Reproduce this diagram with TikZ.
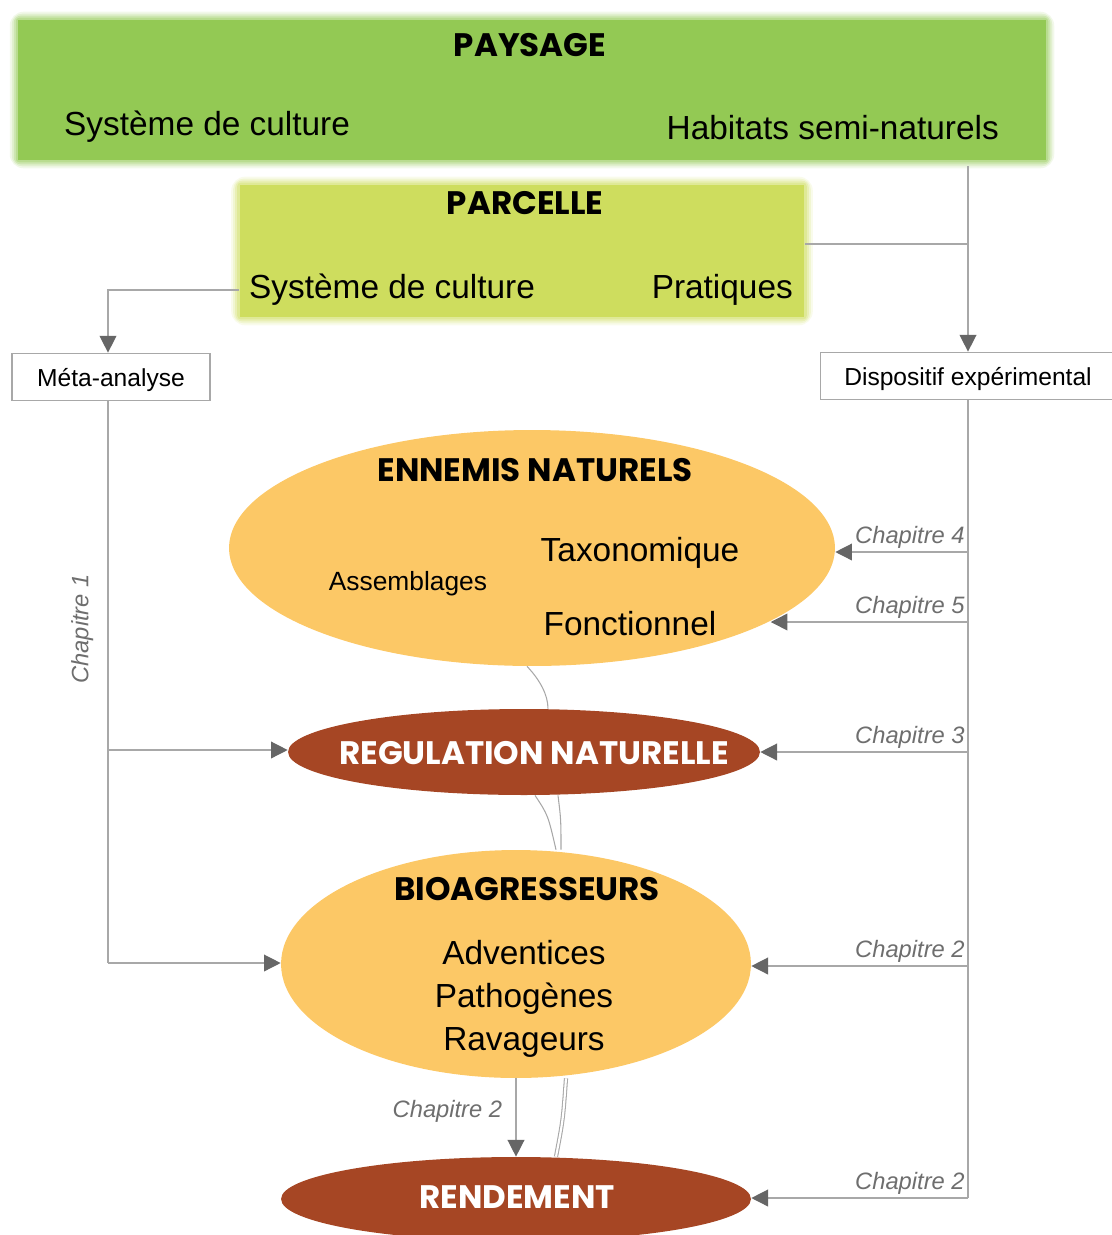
\documentclass[tikz,border=0pt]{standalone}
\usepackage{fontspec}
\setmainfont{Liberation Sans}
\newfontfamily\titlefont{Poppins}
\usetikzlibrary{shapes.geometric,arrows.meta,calc}

\definecolor{paysagegreen}{HTML}{93C954}
\definecolor{parcellegreen}{HTML}{CEDD5E}
\definecolor{ennemisyellow}{HTML}{FCC866}
\definecolor{regulbrown}{HTML}{A64624}
\definecolor{linegray}{HTML}{A8A8A8}
\definecolor{tipgray}{HTML}{666666}
\definecolor{chapgray}{HTML}{6E6E6E}

\tikzset{
  levelbox/.style={rectangle,inner sep=0pt},
  methbox/.style={rectangle,draw=linegray,line width=1pt,fill=white,inner sep=0pt,text depth=0pt,
    font=\fontsize{14}{16}\selectfont},
  lightell/.style={ellipse,fill=ennemisyellow,inner sep=0pt},
  darkell/.style={ellipse,fill=regulbrown,inner sep=0pt},
  titletext/.style={font=\titlefont\bfseries\fontsize{18.5}{20}\selectfont},
  bodytext/.style={font=\fontsize{19}{22}\selectfont},
  chaptext/.style={font=\itshape\fontsize{13.5}{15}\selectfont,text=chapgray,inner sep=1.5pt},
  link/.style={draw=linegray,line width=0.8pt},
  arr/.style={link,-{Triangle[length=9.5pt,width=9.5pt,color=tipgray]}},
  curve/.style={draw=linegray,line width=0.6pt}
}

\begin{document}
\begin{tikzpicture}[x=0.02cm,y=-0.02cm]

	\useasboundingbox (0,0) rectangle (1112,1235);

	% niveaux
	\node[levelbox,fill=paysagegreen,minimum width=20.56cm,minimum height=2.8cm] (paysage) at (532,90) {};
	\node[levelbox,fill=parcellegreen,minimum width=11.3cm,minimum height=2.64cm] (parcelle) at (522,251) {};
	\foreach \d/\o in {8/0.12,6/0.18,4/0.25,2/0.35}{
		\fill[paysagegreen,opacity=\o,rounded corners=\d] ($(paysage.south west)+(-\d,\d)$) rectangle ($(paysage.north east)+(\d,-\d)$);
		\fill[parcellegreen,opacity=\o,rounded corners=\d] ($(parcelle.south west)+(-\d,\d)$) rectangle ($(parcelle.north east)+(\d,-\d)$);
	}

	\node[titletext] (paysagetitle) at (530,45) {PAYSAGE};
	\node[bodytext,anchor=west] (paysageculture) at (58,127) {Système de culture};
	\node[bodytext,anchor=east] (paysagehabitats) at (1005,128) {Habitats semi-naturels};

	\node[titletext] (parcelletitle) at (525,203) {PARCELLE};
	\node[bodytext,anchor=west] (parcelleculture) at (243,290) {Système de culture};
	\node[bodytext,anchor=east] (parcellepratiques) at (799,290) {Pratiques};

	% methodes
	\node[methbox,minimum width=3.96cm,minimum height=0.94cm] (meta) at (111,377) {Méta-analyse};
	\node[methbox,minimum width=5.9cm,minimum height=0.94cm] (dispo) at (968,376) {Dispositif expérimental};

	% ellipses
	\node[lightell,minimum width=12.12cm,minimum height=4.72cm] (ennemis) at (532,548) {};
	\node[darkell,minimum width=9.44cm,minimum height=1.72cm] (regul) at (524,752) {};
	\node[lightell,minimum width=9.4cm,minimum height=4.56cm] (bioag) at (516,964) {};
	\node[darkell,minimum width=9.4cm,minimum height=1.68cm] (rend) at (516,1199) {};

	\node[titletext] (ennemistitle) at (535,470) {ENNEMIS NATURELS};
	\node[bodytext] (taxo) at (640,553) {Taxonomique};
	\node[font=\fontsize{15}{17}\selectfont] (assemb) at (408,584) {Assemblages};
	\node[bodytext] (fonct) at (630,624) {Fonctionnel};
	\node[titletext,text=white] (regultitle) at (534,753) {REGULATION NATURELLE};
	\node[titletext] (bioagtitle) at (527,889) {BIOAGRESSEURS};
	\node[font=\fontsize{19}{24.4}\selectfont,align=center] (bioaglist) at (524,999) {Adventices\\Pathogènes\\Ravageurs};
	\node[titletext,text=white] (rendtitle) at (517,1197) {RENDEMENT};

	% liaisons
	\coordinate (paysageout) at (968,166);
	\coordinate (parcellejoin) at (968,244);
	\coordinate (metain) at (108,290);
	\coordinate (leftregul) at (108,750);
	\coordinate (leftbio) at (108,963);
	\coordinate (rightennemis) at (968,552);
	\coordinate (rightfonct) at (968,622);
	\coordinate (rightregul) at (968,752);
	\coordinate (rightbio) at (968,966);
	\coordinate (rightrend) at (968,1198);

	\draw[arr] (paysageout) -- (paysageout |- dispo.north);
	\draw[link] (parcelle.east |- parcellejoin) -- (parcellejoin);
	\draw[arr] (parcelle.west |- metain) -- (metain) -- (metain |- meta.north);

	\draw[link] (meta.south -| leftregul) -- node[chaptext,pos=0.405,rotate=90,anchor=south,inner sep=8pt] {Chapitre 1} (leftbio);
	\draw[arr] (leftregul) -- (leftregul -| regul.west);
	\draw[arr] (leftbio) -- (leftbio -| bioag.west);

	\draw[link] (dispo.south -| rightrend) -- (rightrend);
	\draw[arr] (rightennemis) node[chaptext,above left] {Chapitre 4} -- (rightennemis -| ennemis.east);
	\draw[arr] (rightfonct) node[chaptext,above left] {Chapitre 5} -- (rightfonct -| ennemis.-17.4);
	\draw[arr] (rightregul) node[chaptext,above left] {Chapitre 3} -- (rightregul -| regul.east);
	\draw[arr] (rightbio) node[chaptext,above left] {Chapitre 2} -- (rightbio -| bioag.east);
	\draw[arr] (rightrend) node[chaptext,above left] {Chapitre 2} -- (rightrend -| rend.east);

	\draw[arr] (bioag.south) -- node[chaptext,pos=0.42,left=6pt] {Chapitre 2} (rend.north);

	\draw[curve] ($(ennemis.south)+(-5,0)$) .. controls (540,680) and (548,695) .. ($(regul.north)+(24,0)$);
	\draw[curve] ($(regul.south)+(11,0)$) .. controls (548,815) .. ($(bioag.north)+(40,0)$);
	\draw[curve] ($(regul.south)+(34,0)$) .. controls (561,820) .. ($(bioag.north)+(45,0)$);
	\draw[curve,double=white,double distance=1.2pt] ($(bioag.south)+(50,0)$) .. controls (563,1120) .. ($(rend.north)+(40,0)$);

\end{tikzpicture}
\end{document}
